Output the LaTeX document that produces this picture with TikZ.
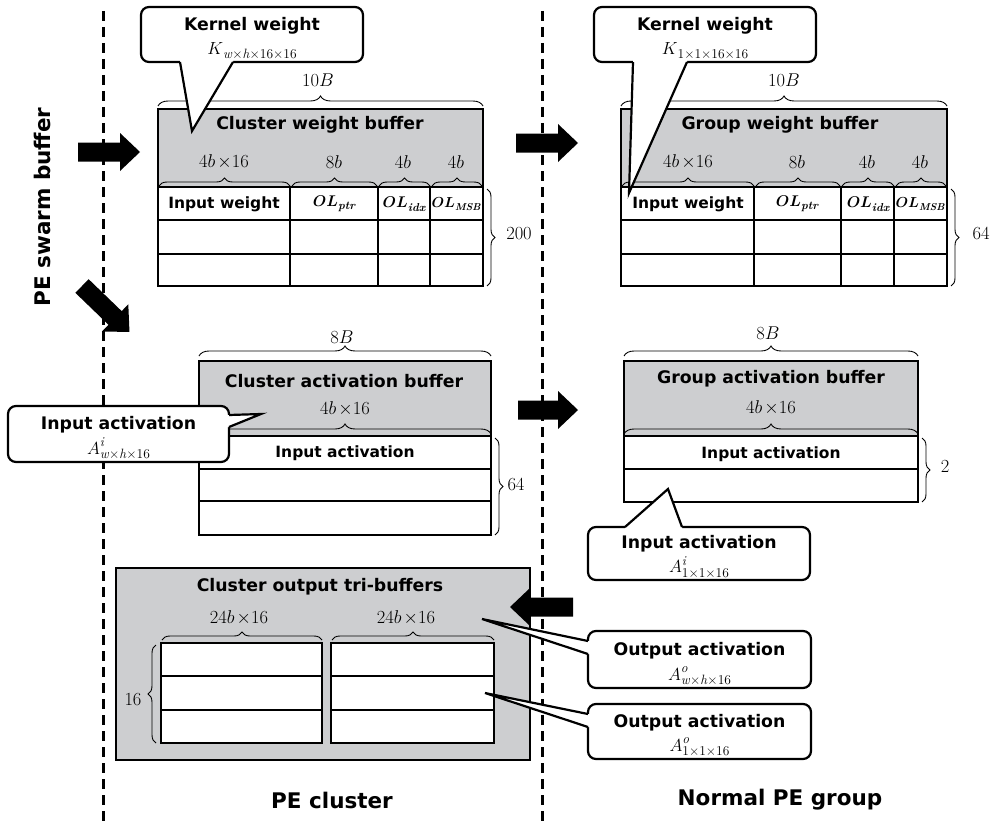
\RequirePackage{fix-cm}
\documentclass[tikz,border=0pt]{standalone}
\usepackage{fontspec}
\newfontfamily\vf{DejaVu Sans}
\usetikzlibrary{decorations.pathreplacing,calc}
\definecolor{bufgray}{RGB}{205,206,208}
\newcommand{\barr}[3]{\fill[black, shift={#1}, rotate=#2] (0,-9.5) -- (#3-20,-9.5) -- (#3-20,-19) -- (#3,0) -- (#3-20,19) -- (#3-20,9.5) -- (0,9.5) -- cycle;}
\newcommand{\tx}{\mkern2mu{\times}}
\newcommand{\subtxt}[1]{\raisebox{-4.5pt}{\fontsize{13.5}{14}\selectfont #1}}
\newcommand{\suptxt}[1]{\rlap{\raisebox{7.5pt}{\fontsize{13.5}{14}\selectfont #1}}}
\newcommand{\olsub}[2]{{\boldmath$OL$}\raisebox{-3.5pt}{\fontsize{#1}{12}\selectfont\bfseries\itshape #2}}
\begin{document}
\begin{tikzpicture}[x=1pt,y=-1pt,
  ttl/.style={font=\vf\bfseries\fontsize{17.3}{20}\selectfont, inner sep=0pt},
  big/.style={font=\vf\bfseries\fontsize{21.5}{24}\selectfont, inner sep=0pt},
  cell/.style={font=\vf\bfseries\fontsize{15.5}{18}\selectfont, inner sep=0pt},
  ml/.style={font=\fontsize{18.5}{20}\selectfont, inner sep=0pt},
  ol/.style={font=\fontsize{15.5}{18}\selectfont, inner sep=0pt},
  gbox/.style={fill=bufgray, draw=black, line width=2.4pt},
  tbl/.style={draw=black, line width=2.4pt, fill=white},
  tl/.style={line width=2.4pt},
  brc/.style={decorate, decoration={brace, amplitude=#1}, line width=0.9pt},
  brc/.default=9,
  cbox/.style={draw=black, fill=white, line width=2.2pt, rounded corners=8pt, outer sep=0pt, inner sep=0pt, minimum width=222pt, minimum height=55pt},
  ctitle/.style={font=\vf\bfseries\fontsize{17.3}{20}\selectfont, inner sep=0pt, anchor=base},
  cmath/.style={font=\fontsize{17.5}{20}\selectfont, inner sep=0pt, anchor=base},
  cl/.style={line width=2.2pt, line join=miter},
  sep/.style={line width=3pt, dash pattern=on 10pt off 6pt},
]
\path[use as bounding box, fill=white] (0,0) rectangle (995,824);

% separators
\coordinate (l1t) at (103,11); \coordinate (l1b) at (103,824);
\coordinate (l2t) at (542,11); \coordinate (l2b) at (542,824);
\draw[sep] (l1t) -- (l1b);
\draw[sep] (l2t) -- (l2b);

\node[big, rotate=90] (swarm) at (42,207) {PE swarm buffer};
\node[big] (pec) at (332,800) {PE cluster};
\node[big] (npg) at (780,800) {Normal PE group};

% ===== Cluster weight buffer =====
\draw[gbox] (158,109) rectangle (483,187);
\draw[tbl] (158,187) rectangle (483,286);
\draw[tl] (158,220) -- (483,220) (158,254) -- (483,254)
  (290,187) -- (290,286) (378,187) -- (378,286) (430,187) -- (430,286);
\node[ttl] (cwbt) at (320,125) {Cluster weight buffer};
\draw[brc=10] (158,106) -- (483,106);
\node[ml] (cw10) at (318,80) {$10B$};
\draw[brc=8] (159,186) -- (290,186);
\draw[brc=8] (292,186) -- (377,186);
\draw[brc=8] (379,186) -- (430,186);
\draw[brc=8] (432,186) -- (482,186);
\node[ml] (cwa) at (224,162) {$4b\tx16$};
\node[ml] (cwb) at (334,162) {$8b$};
\node[ml] (cwc) at (403,162) {$4b$};
\node[ml] (cwd) at (456,162) {$4b$};
\node[cell] (cwe) at (224,204) {Input weight};
\node[ol] (cwf) at (334,204) {\olsub{11.5}{ptr}};
\node[ol] (cwg) at (404,204) {\olsub{11.5}{idx}};
\node[ol, font=\fontsize{14.5}{16}\selectfont] (cwh) at (456,204) {\olsub{10}{MSB}};
\draw[brc=8] (487,189) -- (487,286);
\node[ml] (cw200) at (519,234) {$200$};

% ===== Group weight buffer =====
\draw[gbox] (621,109) rectangle (947,187);
\draw[tbl] (621,187) rectangle (947,286);
\draw[tl] (621,220) -- (947,220) (621,254) -- (947,254)
  (754,187) -- (754,286) (841,187) -- (841,286) (894,187) -- (894,286);
\node[ttl] (gwbt) at (780,125) {Group weight buffer};
\draw[brc=10] (621,106) -- (947,106);
\node[ml] (gw10) at (784,80) {$10B$};
\draw[brc=8] (622,186) -- (754,186);
\draw[brc=8] (756,186) -- (840,186);
\draw[brc=8] (842,186) -- (894,186);
\draw[brc=8] (896,186) -- (946,186);
\node[ml] (gwa) at (688,162) {$4b\tx16$};
\node[ml] (gwb) at (797,162) {$8b$};
\node[ml] (gwc) at (867,162) {$4b$};
\node[ml] (gwd) at (920,162) {$4b$};
\node[cell] (gwe) at (688,204) {Input weight};
\node[ol] (gwf) at (797,204) {\olsub{11.5}{ptr}};
\node[ol] (gwg) at (868,204) {\olsub{11.5}{idx}};
\node[ol, font=\fontsize{14.5}{16}\selectfont] (gwh) at (920,204) {\olsub{10}{MSB}};
\draw[brc=8] (951,189) -- (951,286);
\node[ml] (gw64) at (981,234) {$64$};

% ===== Cluster activation buffer =====
\draw[gbox] (199,361) rectangle (491,436);
\draw[tbl] (199,436) rectangle (491,535);
\draw[tl] (199,469) -- (491,469) (199,501) -- (491,501);
\node[ttl] (cabt) at (344,381) {Cluster activation buffer};
\node[ml] (cab4) at (345,409) {$4b\tx16$};
\draw[brc=10] (199,434) -- (491,434);
\draw[brc=10] (199,356) -- (491,356);
\node[ml] (cab8) at (342,337) {$8B$};
\node[cell] (cabi) at (345,453) {Input activation};
\draw[brc=8] (495,438) -- (495,535);
\node[ml] (cab64) at (516,485) {$64$};

% ===== Group activation buffer =====
\draw[gbox] (624,361) rectangle (918,436);
\draw[tbl] (624,436) rectangle (918,502);
\draw[tl] (624,469) -- (918,469);
\node[ttl] (gabt) at (771,379) {Group activation buffer};
\node[ml] (gab4) at (771,408) {$4b\tx16$};
\draw[brc=10] (624,434) -- (918,434);
\draw[brc=10] (624,356) -- (918,356);
\node[ml] (gab8) at (768,333) {$8B$};
\node[cell] (gabi) at (771,454) {Input activation};
\draw[brc=8] (922,438) -- (922,502);
\node[ml] (gab2) at (945,467) {$2$};

% ===== Cluster output tri-buffers =====
\draw[gbox] (116,568) rectangle (530,760);
\node[ttl] (cot) at (320,587) {Cluster output tri-buffers};
\draw[tbl] (161,643) rectangle (322,743);
\draw[tl] (161,676) -- (322,676) (161,710) -- (322,710);
\draw[tbl] (331,643) rectangle (494,743);
\draw[tl] (331,676) -- (494,676) (331,710) -- (494,710);
\draw[brc=8] (162,640) -- (322,640);
\draw[brc=8] (332,640) -- (494,640);
\node[ml] (co1) at (239,618) {$24b\tx16$};
\node[ml] (co2) at (406,618) {$24b\tx16$};
\draw[brc=8] (156,743) -- (156,645);
\node[ml] (co16) at (133,700) {$16$};

% ===== block arrows =====
\barr{(78,152)}{0}{62}
\barr{(82,286)}{-44}{66}
\barr{(516,143)}{0}{62}
\barr{(518,410)}{0}{60}
\barr{(573,607)}{180}{63}

% ===== callouts =====
% kernel weight (cluster)
\node[cbox] (kw1) at (252,34.5) {};
\coordinate (kw1a) at ($(kw1.south west)+(39,0)$);
\coordinate (kw1b) at ($(kw1.south west)+(92,0)$);
\coordinate (kw1t) at (192,131);
\fill[white] ($(kw1a)+(0,-2.5)$) -- (kw1a) -- (kw1t) -- (kw1b) -- ($(kw1b)+(0,-2.5)$) -- cycle;
\draw[cl] (kw1a) -- (kw1t) -- (kw1b);
\node[ctitle] (kw1x) at ($(kw1.center)+(0,-3.5)$) {Kernel weight};
\node[cmath] (kw1m) at ($(kw1.center)+(0,20)$) {$K$\subtxt{\textit{w}×\textit{h}×16×16}};

% kernel weight (group)
\node[cbox] (kw2) at (705,34.5) {};
\coordinate (kw2a) at ($(kw2.south west)+(39,0)$);
\coordinate (kw2b) at ($(kw2.south west)+(93,0)$);
\coordinate (kw2t) at (629,193);
\fill[white] ($(kw2a)+(0,-2.5)$) -- (kw2a) -- (kw2t) -- (kw2b) -- ($(kw2b)+(0,-2.5)$) -- cycle;
\draw[cl] (kw2a) -- (kw2t) -- (kw2b);
\node[ctitle] (kw2x) at ($(kw2.center)+(0,-3.5)$) {Kernel weight};
\node[cmath] (kw2m) at ($(kw2.center)+(0,20)$) {$K$\subtxt{1×1×16×16}};

% input activation (cluster)
\node[cbox, minimum width=221pt, minimum height=56pt] (ia1) at (118.5,434) {};
\coordinate (ia1a) at ($(ia1.north east)+(0,9)$);
\coordinate (ia1b) at ($(ia1.north east)+(0,21)$);
\coordinate (ia1t) at (261,414);
\fill[white] ($(ia1a)+(-2.5,0)$) -- (ia1a) -- (ia1t) -- (ia1b) -- ($(ia1b)+(-2.5,0)$) -- cycle;
\draw[cl] (ia1a) -- (ia1t) -- (ia1b);
\node[ctitle] (ia1x) at ($(ia1.center)+(0,-5)$) {Input activation};
\node[cmath] (ia1m) at ($(ia1.center)+(0,20)$) {$A$\suptxt{\textit{i}}\subtxt{\textit{w}×\textit{h}×16}};

% input activation (group)
\node[cbox, minimum height=53pt] (ia2) at (699,553.5) {};
\coordinate (ia2a) at ($(ia2.north west)+(37,0)$);
\coordinate (ia2b) at ($(ia2.north west)+(94,0)$);
\coordinate (ia2t) at (668,489);
\fill[white] ($(ia2a)+(0,2.5)$) -- (ia2a) -- (ia2t) -- (ia2b) -- ($(ia2b)+(0,2.5)$) -- cycle;
\draw[cl] (ia2a) -- (ia2t) -- (ia2b);
\node[ctitle] (ia2x) at ($(ia2.center)+(0,-5)$) {Input activation};
\node[cmath] (ia2m) at ($(ia2.center)+(0,19)$) {$A$\suptxt{\textit{i}}\subtxt{1×1×16}};

% output activation 1
\node[cbox, minimum width=223pt, minimum height=57pt] (oa1) at (699.5,659.5) {};
\coordinate (oa1a) at ($(oa1.north west)+(0,10)$);
\coordinate (oa1b) at ($(oa1.north west)+(0,23)$);
\coordinate (oa1t) at (482,619);
\fill[white] ($(oa1a)+(2.5,0)$) -- (oa1a) -- (oa1t) -- (oa1b) -- ($(oa1b)+(2.5,0)$) -- cycle;
\draw[cl] (oa1a) -- (oa1t) -- (oa1b);
\node[ctitle] (oa1x) at ($(oa1.center)+(0,-4.5)$) {Output activation};
\node[cmath] (oa1m) at ($(oa1.center)+(0,20.5)$) {$A$\suptxt{\textit{o}}\subtxt{\textit{w}×\textit{h}×16}};

% output activation 2
\node[cbox, minimum width=223pt, minimum height=55pt] (oa2) at (699.5,731.5) {};
\coordinate (oa2a) at ($(oa2.north west)+(0,10)$);
\coordinate (oa2b) at ($(oa2.north west)+(0,23)$);
\coordinate (oa2t) at (485,693);
\fill[white] ($(oa2a)+(2.5,0)$) -- (oa2a) -- (oa2t) -- (oa2b) -- ($(oa2b)+(2.5,0)$) -- cycle;
\draw[cl] (oa2a) -- (oa2t) -- (oa2b);
\node[ctitle] (oa2x) at ($(oa2.center)+(0,-4.5)$) {Output activation};
\node[cmath] (oa2m) at ($(oa2.center)+(0,19.5)$) {$A$\suptxt{\textit{o}}\subtxt{1×1×16}};

\end{tikzpicture}
\end{document}
